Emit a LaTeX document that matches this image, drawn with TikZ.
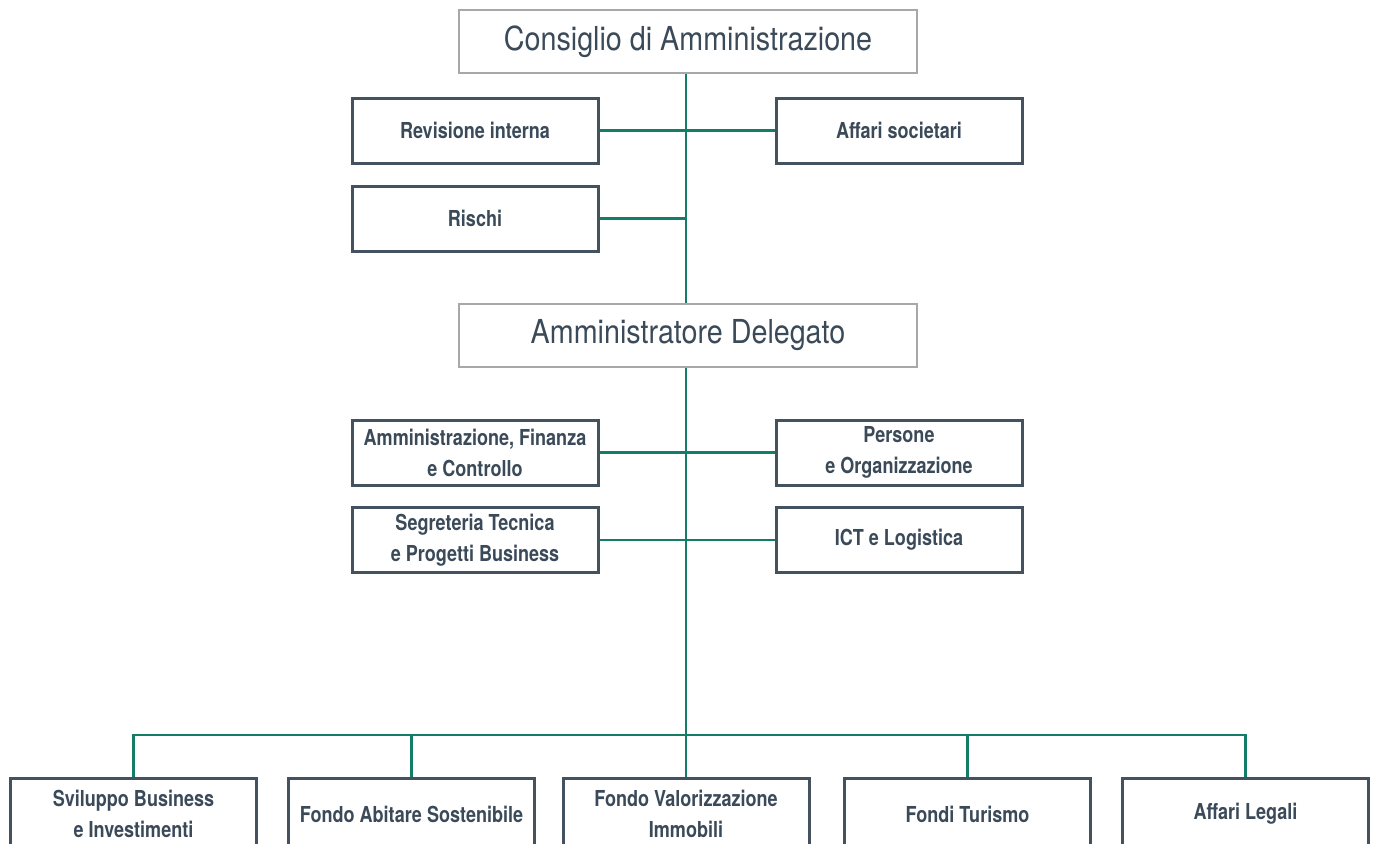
\documentclass[tikz,border=0pt]{standalone}
\usepackage{fontspec}
\setmainfont{TeX Gyre Heros}
\newfontfamily\headfont{TeX Gyre Heros}[FakeStretch=0.87]
\newfontfamily\unitfont{TeX Gyre Heros}[FakeStretch=0.82]
\usetikzlibrary{positioning,calc}
\definecolor{orgslate}{HTML}{44525F}
\definecolor{orgink}{HTML}{3B4A59}
\definecolor{orggreen}{HTML}{137D68}
\definecolor{orggrey}{HTML}{A8A8A8}
\tikzset{
  head/.style={draw=orggrey, line width=2pt, fill=white, minimum width=458pt, minimum height=63pt, inner sep=0pt, text=orgink, font=\headfont\fontsize{33}{38}\selectfont},
  unit/.style={draw=orgslate, line width=3pt, fill=white, minimum width=246pt, minimum height=65pt, inner sep=0pt, align=center, text=orgink, font=\unitfont\bfseries\fontsize{22}{31}\selectfont},
  link/.style={draw=orggreen, line width=2.8pt},
}
\begin{document}
\begin{tikzpicture}[x=1pt, y=-1pt]
  \useasboundingbox (0,0) rectangle (1375,843);
  \clip (0,0) rectangle (1375,843);
  % board level
  \node[head] (cda) at (688,41.5) {Consiglio di Amministrazione};
  \node[unit] (rev) at (475,130.5) {Revisione interna};
  \node[unit] (aff) at (899,130.5) {Affari societari};
  \node[unit] (risk) at (475,218.5) {Rischi};
  % ceo level
  \node[head] (ad) at (688,335.5) {Amministratore Delegato};
  \node[unit] (afc) at (475,452.5) {Amministrazione, Finanza\\e Controllo};
  \node[unit] (po) at (899,452.5) {Persone\\e Organizzazione};
  \node[unit] (stp) at (475,540) {Segreteria Tecnica\\e Progetti Business};
  \node[unit] (ict) at (899,540) {ICT e Logistica};
  % business lines
  \node[unit, minimum height=72pt] (sbi) at (133.5,814) {Sviluppo Business\\e Investimenti};
  \node[unit, minimum height=72pt] (fas) at (411.5,814) {Fondo Abitare Sostenibile};
  \node[unit, minimum height=72pt] (fvi) at (686,814) {Fondo Valorizzazione\\Immobili};
  \node[unit, minimum height=72pt] (ft) at (967.5,814) {Fondi Turismo};
  \node[unit, minimum height=72pt] (al) at (1245.5,814) {Affari Legali};
  \coordinate (bus) at (686,735);
  % connectors
  \draw[link] (cda.south -| bus) -- (ad.north -| bus);
  \draw[link] (rev.east) -- (aff.west);
  \draw[link] (risk.east) -- (risk.east -| bus);
  \draw[link] (ad.south -| bus) -- (fvi.north);
  \draw[link] (afc.east) -- (po.west);
  \draw[link] (stp.east) -- (ict.west);
  \draw[link] (sbi.north) |- (bus) -| (al.north);
  \draw[link] (fas.north) -- (fas.north |- bus);
  \draw[link] (ft.north) -- (ft.north |- bus);
\end{tikzpicture}
\end{document}
